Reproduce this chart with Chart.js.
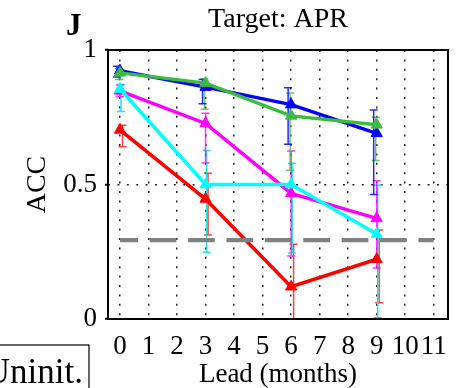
<!DOCTYPE html>
<html>
<head>
<meta charset="utf-8">
<script src="https://cdn.jsdelivr.net/npm/chart.js@4/dist/chart.umd.min.js"></script>
<style>
html,body{margin:0;padding:0;background:#fff;}
#wrap{width:462px;height:388px;position:relative;}
</style>
</head>
<body>
<div id="wrap"><canvas id="c" width="462" height="388"></canvas></div>
<script>
// ---- data ----
const leads = [0, 3, 6, 9];
const xTickValues = [0, 1, 2, 3, 4, 5, 6, 7, 8, 9, 10, 11];
const yTickValues = [0, 0.5, 1];
const uninitLevel = 0.293;

const blueACC = [0.923, 0.862, 0.797, 0.690];
const blueLo  = [0.900, 0.800, 0.650, 0.463];
const blueHi  = [0.940, 0.890, 0.860, 0.777];

const greenACC = [0.915, 0.877, 0.755, 0.722];
const greenLo  = [0.890, 0.780, 0.553, 0.589];
const greenHi  = [0.930, 0.893, 0.840, 0.750];

const magentaACC = [0.848, 0.727, 0.467, 0.374];
const magentaLo  = [0.826, 0.580, 0.234, 0.190];
const magentaHi  = [0.870, 0.765, 0.625, 0.514];

const cyanACC = [0.855, 0.500, 0.500, 0.316];
const cyanLo  = [0.771, 0.248, 0.245, 0.005];
const cyanHi  = [0.872, 0.626, 0.579, 0.498];

const redACC = [0.703, 0.446, 0.120, 0.222];
const redLo  = [0.640, 0.312, 0.000, 0.060];
const redHi  = [0.720, 0.542, 0.278, 0.331];

// ---- styles ----
const FONT = '"Liberation Serif", "Times New Roman", serif';
const series = [
  {acc: redACC,     lo: redLo,     hi: redHi,     color: '#ff0000', bar: 'rgba(255,0,0,0.75)',   dx: 2.5, order: 1},
  {acc: cyanACC,    lo: cyanLo,    hi: cyanHi,    color: '#00ffff', bar: 'rgba(0,230,230,0.9)',  dx: 1,   order: 2},
  {acc: magentaACC, lo: magentaLo, hi: magentaHi, color: '#ff00ff', bar: 'rgba(255,0,255,0.8)',  dx: 0,   order: 3},
  {acc: greenACC,   lo: greenLo,   hi: greenHi,   color: '#3cbc3c', bar: 'rgba(60,188,60,0.8)',  dx: -1,  order: 4},
  {acc: blueACC,    lo: blueLo,    hi: blueHi,    color: '#0000ff', bar: 'rgba(0,0,255,0.85)',   dx: -3,  order: 5}
];

const datasets = series.map(s => ({
  data: leads.map((x, i) => ({x: x, y: s.acc[i]})),
  borderColor: s.color,
  backgroundColor: s.color,
  pointBackgroundColor: s.color,
  pointBorderColor: s.color,
  borderWidth: 3.5,
  pointStyle: 'triangle',
  pointRadius: 6.5,
  pointBorderWidth: 1,
  order: s.order,
  clip: false
}));
datasets.push({
  data: [{x: xTickValues[0], y: uninitLevel}, {x: xTickValues[xTickValues.length - 1], y: uninitLevel}],
  borderColor: '#808080',
  borderWidth: 4.3,
  borderDash: [26.7, 11.7],
  borderDashOffset: 8.7,
  borderCapStyle: 'butt',
  pointRadius: 0,
  order: 0,
  clip: false
});

const errorBars = {
  id: 'errorBars',
  beforeDatasetsDraw(chart) {
    const ctx = chart.ctx, xs = chart.scales.x, ys = chart.scales.y;
    ctx.save();
    series.forEach(s => {
      ctx.strokeStyle = s.bar;
      ctx.lineWidth = 1.5;
      leads.forEach((lead, i) => {
        const x = xs.getPixelForValue(lead) + s.dx;
        const y1 = ys.getPixelForValue(s.lo[i]);
        const y2 = ys.getPixelForValue(s.hi[i]);
        ctx.beginPath();
        ctx.moveTo(x, y1); ctx.lineTo(x, y2);
        ctx.moveTo(x - 4, y1); ctx.lineTo(x + 4, y1);
        ctx.moveTo(x - 4, y2); ctx.lineTo(x + 4, y2);
        ctx.stroke();
      });
    });
    ctx.restore();
  }
};

const frame = {
  id: 'frame',
  afterDraw(chart) {
    const ctx = chart.ctx, a = chart.chartArea;
    ctx.save();
    ctx.strokeStyle = '#000';
    ctx.lineWidth = 2;
    ctx.strokeRect(a.left, a.top, a.right - a.left, a.bottom - a.top);
    // panel letter
    ctx.fillStyle = '#000';
    ctx.textBaseline = 'alphabetic';
    ctx.textAlign = 'left';
    ctx.font = 'bold 31px ' + FONT;
    ctx.fillText('J', 66, 35);
    // legend box (clipped)
    ctx.lineWidth = 1.2;
    ctx.strokeRect(-10, 345, 99, 60);
    ctx.font = '35px ' + FONT;
    ctx.textAlign = 'right';
    ctx.fillText('Uninit.', 83, 383);
    ctx.restore();
  }
};

new Chart(document.getElementById('c'), {
  type: 'line',
  data: {datasets: datasets},
  plugins: [errorBars, frame],
  options: {
    responsive: false,
    animation: false,
    events: [],
    layout: {padding: {top: 0, right: 14, bottom: 0, left: 0}},
    plugins: {
      legend: {display: false},
      tooltip: {enabled: false},
      title: {
        display: true,
        text: 'Target: APR',
        fullSize: false,
        color: '#000',
        font: {family: FONT, size: 28, weight: 'normal', lineHeight: 1.2},
        padding: {top: 3, bottom: 13.4}
      }
    },
    scales: {
      x: {
        type: 'linear',
        min: -0.42,
        max: 11.5,
        afterBuildTicks(scale) { scale.ticks = xTickValues.map(v => ({value: v})); },
        afterFit(scale) { scale.height = 69; },
        border: {display: false, dash: [2, 7.4]},
        grid: {
          color: '#222',
          lineWidth: 1.5,
          drawTicks: false
        },
        ticks: {
          color: '#000',
          font: {family: FONT, size: 27},
          padding: 12,
          maxRotation: 0,
          autoSkip: false,
          callback: v => String(v)
        },
        title: {
          display: true,
          text: 'Lead (months)',
          color: '#000',
          font: {family: FONT, size: 27},
          padding: {top: 0, bottom: -3}
        }
      },
      y: {
        type: 'linear',
        min: 0,
        max: 1,
        afterBuildTicks(scale) { scale.ticks = yTickValues.map(v => ({value: v})); },
        afterFit(scale) { scale.width = 108; },
        border: {display: false, dash: [2, 7.4]},
        grid: {
          color: ctx => (ctx.tick && ctx.tick.value === 0.5) ? '#222' : 'rgba(0,0,0,0)',
          lineWidth: 1.5,
          drawTicks: true,
          tickLength: 3,
          tickColor: '#000',
          tickWidth: 2,
          tickBorderDash: []
        },
        ticks: {
          color: '#000',
          font: {family: FONT, size: 27},
          padding: 8,
          callback: v => String(v)
        },
        title: {
          display: true,
          text: 'ACC',
          color: '#000',
          font: {family: FONT, size: 28},
          padding: {top: 21, bottom: 0}
        }
      }
    }
  }
});
</script>
</body>
</html>
